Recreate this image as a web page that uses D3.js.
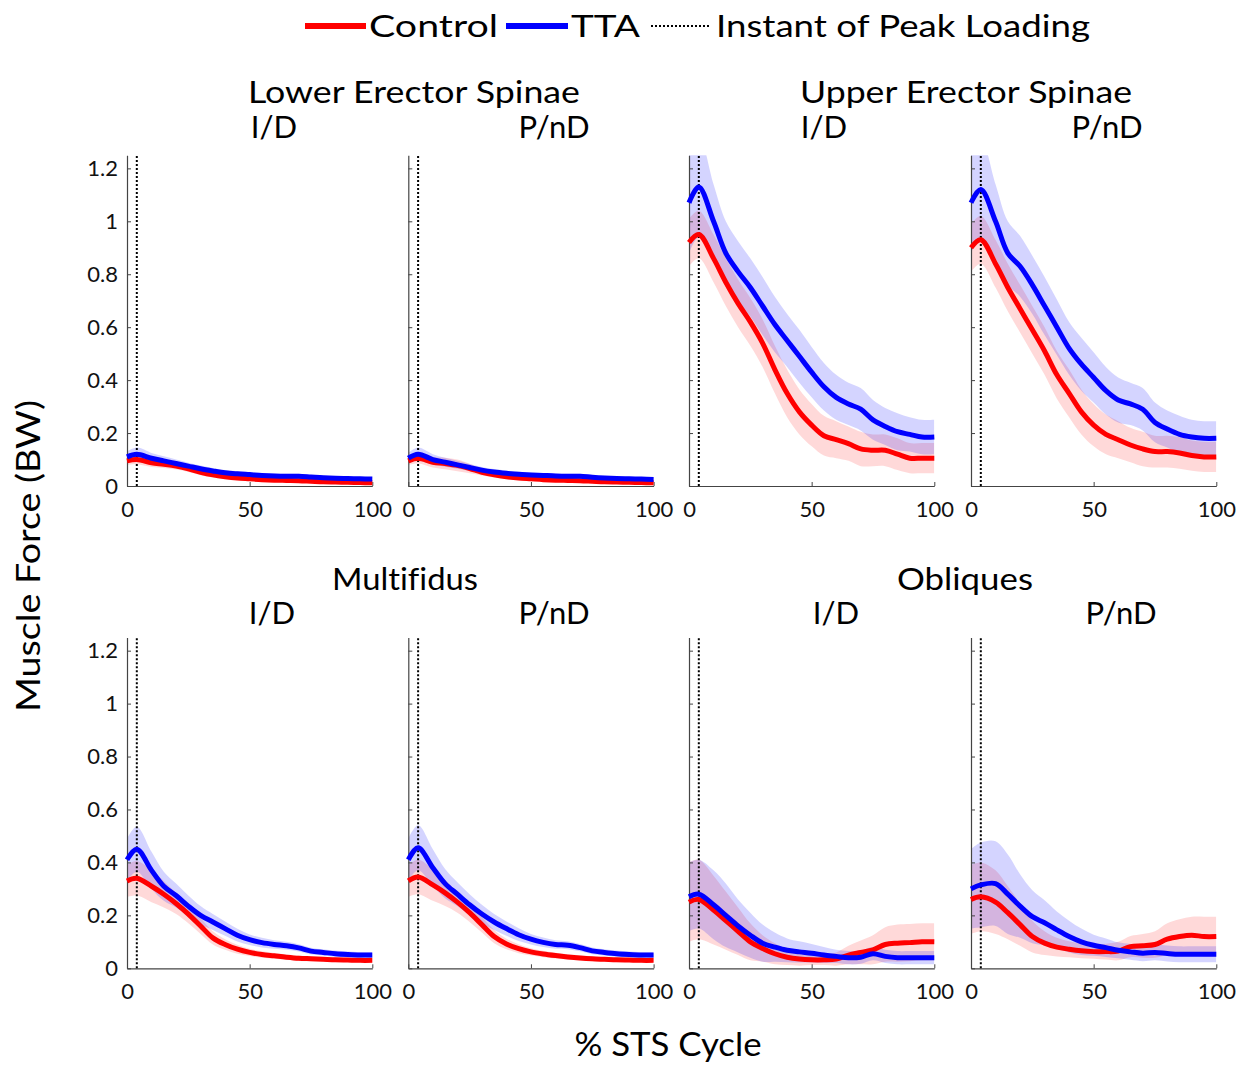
<!DOCTYPE html>
<html>
<head>
<meta charset="utf-8">
<script src="https://cdn.jsdelivr.net/npm/d3@7"></script>
<style>
  html, body { margin: 0; padding: 0; background: #fff; }
  svg { display: block; font-family: Lato, "Open Sans", sans-serif; font-variant-ligatures: none; }
</style>
</head>
<body>
<svg id="chart" width="1248" height="1066"></svg>
<script>
// ---------------- DATA ----------------
const cyclePct = [0,4,10,15,20,25,30,35,40,45,50,55,60,65,70,75,80,85,90,95,100];
const yTicks = [0,0.2,0.4,0.6,0.8,1,1.2];
const yTickLabels = ["0","0.2","0.4","0.6","0.8","1","1.2"];
const xTicks = [0,50,100];
const peakInstant = 4;
const muscles = ["Lower Erector Spinae","Upper Erector Spinae","Multifidus","Obliques"];
const sides = ["I/D","P/nD"];
const seriesNames = ["Control","TTA"];

// Lower Erector Spinae
const lesID_control   = [0.095,0.10,0.088,0.082,0.075,0.065,0.052,0.042,0.035,0.030,0.027,0.024,0.022,0.021,0.020,0.018,0.016,0.015,0.014,0.013,0.012];
const lesID_tta       = [0.11,0.12,0.105,0.095,0.085,0.075,0.065,0.057,0.050,0.046,0.043,0.040,0.038,0.037,0.037,0.034,0.031,0.029,0.028,0.027,0.026];
const lesID_controlSD = [0.015,0.018,0.016,0.014,0.013,0.012,0.011,0.010,0.009,0.008,0.008,0.007,0.007,0.007,0.007,0.006,0.006,0.006,0.006,0.006,0.006];
const lesID_ttaSD     = [0.02,0.025,0.02,0.017,0.015,0.013,0.012,0.011,0.010,0.010,0.009,0.009,0.009,0.009,0.009,0.008,0.008,0.008,0.008,0.008,0.008];
const lesPnD_control   = [0.095,0.105,0.09,0.085,0.078,0.066,0.052,0.042,0.035,0.030,0.027,0.024,0.022,0.021,0.020,0.018,0.016,0.015,0.014,0.013,0.012];
const lesPnD_tta       = [0.105,0.12,0.10,0.09,0.08,0.07,0.06,0.053,0.048,0.044,0.042,0.040,0.038,0.037,0.037,0.033,0.030,0.028,0.027,0.026,0.025];
const lesPnD_controlSD = [0.015,0.02,0.02,0.022,0.022,0.018,0.012,0.01,0.009,0.008,0.008,0.007,0.007,0.007,0.007,0.006,0.006,0.006,0.006,0.006,0.006];
const lesPnD_ttaSD     = [0.02,0.025,0.02,0.017,0.015,0.013,0.012,0.011,0.010,0.010,0.009,0.009,0.009,0.009,0.009,0.008,0.008,0.008,0.008,0.008,0.008];

// Upper Erector Spinae
const uesID_control   = [0.92,0.95,0.86,0.77,0.69,0.62,0.54,0.44,0.35,0.28,0.23,0.19,0.175,0.16,0.14,0.135,0.135,0.12,0.105,0.105,0.105];
const uesID_tta       = [1.07,1.13,1.0,0.88,0.81,0.75,0.68,0.61,0.55,0.49,0.43,0.375,0.335,0.31,0.29,0.25,0.225,0.205,0.195,0.185,0.185];
const uesID_controlSD = [0.09,0.09,0.09,0.09,0.09,0.09,0.09,0.09,0.09,0.085,0.08,0.075,0.07,0.065,0.065,0.06,0.06,0.06,0.057,0.057,0.057];
const uesID_ttaSD     = [0.19,0.19,0.14,0.12,0.115,0.11,0.11,0.105,0.10,0.10,0.095,0.09,0.085,0.08,0.08,0.075,0.07,0.07,0.065,0.065,0.065];
const uesPnD_control   = [0.90,0.93,0.84,0.75,0.67,0.59,0.51,0.42,0.35,0.28,0.23,0.195,0.175,0.155,0.14,0.13,0.13,0.125,0.115,0.11,0.11];
const uesPnD_tta       = [1.07,1.12,1.0,0.88,0.83,0.76,0.68,0.60,0.52,0.46,0.41,0.36,0.325,0.31,0.29,0.24,0.215,0.195,0.185,0.18,0.18];
const uesPnD_controlSD = [0.09,0.09,0.09,0.09,0.09,0.09,0.09,0.09,0.09,0.085,0.08,0.075,0.07,0.065,0.065,0.06,0.06,0.06,0.057,0.057,0.057];
const uesPnD_ttaSD     = [0.19,0.19,0.14,0.12,0.115,0.11,0.11,0.105,0.10,0.10,0.095,0.09,0.085,0.08,0.08,0.075,0.07,0.07,0.065,0.065,0.065];

// Multifidus
const mfID_control   = [0.33,0.34,0.31,0.28,0.245,0.205,0.16,0.115,0.09,0.072,0.06,0.052,0.047,0.042,0.038,0.036,0.034,0.032,0.031,0.03,0.03];
const mfID_tta       = [0.41,0.45,0.37,0.31,0.275,0.235,0.20,0.175,0.15,0.125,0.108,0.097,0.09,0.085,0.077,0.065,0.06,0.055,0.052,0.05,0.05];
const mfID_controlSD = [0.06,0.065,0.06,0.05,0.04,0.035,0.03,0.025,0.02,0.017,0.014,0.012,0.011,0.01,0.01,0.009,0.009,0.009,0.008,0.008,0.008];
const mfID_ttaSD     = [0.08,0.085,0.07,0.055,0.045,0.04,0.035,0.03,0.027,0.024,0.02,0.018,0.016,0.015,0.014,0.013,0.012,0.012,0.011,0.011,0.011];
const mfPnD_control   = [0.33,0.345,0.315,0.285,0.25,0.21,0.165,0.12,0.092,0.074,0.062,0.054,0.048,0.043,0.039,0.036,0.034,0.032,0.031,0.03,0.03];
const mfPnD_tta       = [0.41,0.455,0.38,0.32,0.28,0.24,0.205,0.175,0.15,0.127,0.11,0.098,0.09,0.087,0.078,0.066,0.06,0.055,0.052,0.05,0.05];
const mfPnD_controlSD = [0.06,0.065,0.06,0.05,0.04,0.035,0.03,0.025,0.02,0.017,0.014,0.012,0.011,0.01,0.01,0.009,0.009,0.009,0.008,0.008,0.008];
const mfPnD_ttaSD     = [0.08,0.085,0.07,0.055,0.045,0.04,0.035,0.03,0.027,0.024,0.02,0.018,0.016,0.015,0.014,0.013,0.012,0.012,0.011,0.011,0.011];

// Obliques
const obID_control   = [0.25,0.26,0.22,0.18,0.14,0.10,0.075,0.055,0.042,0.035,0.032,0.032,0.035,0.05,0.06,0.07,0.09,0.095,0.097,0.10,0.10];
const obID_tta       = [0.27,0.28,0.24,0.20,0.16,0.125,0.095,0.08,0.068,0.062,0.057,0.05,0.045,0.04,0.042,0.055,0.045,0.04,0.04,0.04,0.04];
const obID_controlSD = [0.15,0.15,0.13,0.11,0.09,0.07,0.05,0.04,0.03,0.025,0.02,0.02,0.025,0.035,0.045,0.055,0.065,0.07,0.07,0.07,0.07];
const obID_ttaSD     = [0.13,0.13,0.13,0.12,0.10,0.085,0.07,0.055,0.045,0.04,0.035,0.03,0.025,0.025,0.025,0.025,0.025,0.025,0.025,0.025,0.025];
const obPnD_control   = [0.26,0.27,0.25,0.21,0.165,0.12,0.095,0.08,0.072,0.066,0.063,0.063,0.065,0.082,0.085,0.09,0.11,0.12,0.125,0.12,0.12];
const obPnD_tta       = [0.30,0.315,0.32,0.28,0.235,0.195,0.172,0.145,0.12,0.10,0.087,0.078,0.068,0.062,0.057,0.06,0.056,0.053,0.053,0.053,0.053];
const obPnD_controlSD = [0.13,0.13,0.12,0.10,0.08,0.06,0.045,0.035,0.03,0.028,0.027,0.03,0.035,0.04,0.045,0.05,0.06,0.065,0.07,0.075,0.075];
const obPnD_ttaSD     = [0.15,0.16,0.16,0.15,0.12,0.10,0.085,0.07,0.06,0.05,0.04,0.035,0.03,0.03,0.03,0.03,0.03,0.03,0.03,0.03,0.03];

// ---------------- LAYOUT ----------------
const colors = { Control: "#ff0000", TTA: "#0000ff" };
const bandColors = { Control: "rgba(255,0,0,0.15)", TTA: "rgba(0,0,255,0.17)" };
const panelLeft = [127, 408.3, 689, 971];
const panelW = 245.3;
const rowBottom = [486, 968.3];
const unitPx = 264.7;   // pixels per 1.0 BW
const yMax = 1.25;
const rowTitleShift = [0, 4];

const panels = [
  {row:0,col:0,side:0,ctrl:lesID_control, tta:lesID_tta, ctrlSD:lesID_controlSD, ttaSD:lesID_ttaSD, subX:274},
  {row:0,col:1,side:1,ctrl:lesPnD_control,tta:lesPnD_tta,ctrlSD:lesPnD_controlSD,ttaSD:lesPnD_ttaSD,subX:554},
  {row:0,col:2,side:0,ctrl:uesID_control, tta:uesID_tta, ctrlSD:uesID_controlSD, ttaSD:uesID_ttaSD, subX:824},
  {row:0,col:3,side:1,ctrl:uesPnD_control,tta:uesPnD_tta,ctrlSD:uesPnD_controlSD,ttaSD:uesPnD_ttaSD,subX:1107},
  {row:1,col:0,side:0,ctrl:mfID_control,  tta:mfID_tta,  ctrlSD:mfID_controlSD,  ttaSD:mfID_ttaSD,  subX:272},
  {row:1,col:1,side:1,ctrl:mfPnD_control, tta:mfPnD_tta, ctrlSD:mfPnD_controlSD, ttaSD:mfPnD_ttaSD, subX:554},
  {row:1,col:2,side:0,ctrl:obID_control,  tta:obID_tta,  ctrlSD:obID_controlSD,  ttaSD:obID_ttaSD,  subX:836},
  {row:1,col:3,side:1,ctrl:obPnD_control, tta:obPnD_tta, ctrlSD:obPnD_controlSD, ttaSD:obPnD_ttaSD, subX:1121}
];
const groupTitles = [
  {m:0, cx:414, y:103,   w:332},
  {m:1, cx:966, y:103,   w:332},
  {m:2, cx:405, y:589.5, w:146},
  {m:3, cx:965, y:589.5, w:136}
];

const svg = d3.select("#chart");
const defs = svg.append("defs");
const curve = d3.curveCatmullRom.alpha(0.5);

panels.forEach((p, i) => {
  const x0 = panelLeft[p.col], yb = rowBottom[p.row];
  const x = d3.scaleLinear().domain([0,100]).range([x0, x0 + panelW]);
  const y = d3.scaleLinear().domain([0,yMax]).range([yb, yb - yMax*unitPx]);
  const g = svg.append("g");

  defs.append("clipPath").attr("id","clip"+i).append("rect")
    .attr("x", x(0)).attr("y", y(yMax)).attr("width", x(100)-x(0)).attr("height", y(0)-y(yMax));

  const rows = cyclePct.map((c, k) => ({c, ctrl:p.ctrl[k], tta:p.tta[k], cs:p.ctrlSD[k], ts:p.ttaSD[k]}));

  const bands = g.append("g").attr("clip-path", `url(#clip${i})`);
  [["Control","ctrl","cs"],["TTA","tta","ts"]].forEach(([name, key, sd]) => {
    const area = d3.area().curve(curve)
      .x(d => x(d.c)).y0(d => y(d[key] - d[sd])).y1(d => y(d[key] + d[sd]));
    bands.append("path").datum(rows).attr("d", area).attr("fill", bandColors[name]).attr("stroke","none");
  });

  // axes
  const yAxis = d3.axisLeft(y).tickValues(yTicks).tickSize(-4).tickSizeOuter(0).tickPadding(9)
    .tickFormat((d, k) => p.col === 0 ? yTickLabels[k] : "");
  const ya = g.append("g").attr("transform", `translate(${x(0)},0)`).call(yAxis);
  const xAxis = d3.axisBottom(x).tickValues(xTicks).tickSize(-4).tickSizeOuter(0).tickPadding(15)
    .tickFormat(d3.format("d"));
  const xa = g.append("g").attr("transform", `translate(0,${y(0)})`).call(xAxis);
  [ya, xa].forEach(a => {
    a.select(".domain").attr("stroke", "#444").attr("stroke-width", 1.2);
    a.selectAll(".tick line").attr("stroke", "#444").attr("stroke-width", 1);
    a.selectAll("text").attr("font-size", 22).attr("fill", "#111").attr("font-family", "Lato, sans-serif");
  });

  // instant of peak loading
  g.append("line").attr("x1", x(peakInstant)).attr("x2", x(peakInstant))
    .attr("y1", y(0)).attr("y2", y(yMax))
    .attr("stroke", "#000").attr("stroke-width", 2).attr("stroke-dasharray", "2,2");

  // mean lines
  [["Control","ctrl"],["TTA","tta"]].forEach(([name, key]) => {
    const line = d3.line().curve(curve).x(d => x(d.c)).y(d => y(d[key]));
    g.append("path").datum(rows).attr("d", line).attr("fill","none")
      .attr("stroke", colors[name]).attr("stroke-width", 5).attr("stroke-linejoin","round");
  });

  // subtitle
  svg.append("text").attr("x", p.subX).attr("y", yb - 348 + rowTitleShift[p.row]).attr("text-anchor","middle")
    .attr("font-size", 31).attr("fill","#000").text(sides[p.side]);
});

groupTitles.forEach(t => {
  svg.append("text").attr("x", t.cx).attr("y", t.y).attr("text-anchor","middle")
    .attr("font-size", 31).attr("fill","#000")
    .attr("textLength", t.w).attr("lengthAdjust","spacingAndGlyphs")
    .text(muscles[t.m]);
});

// axis labels
svg.append("text").attr("transform","translate(40,556) rotate(-90)").attr("text-anchor","middle")
  .attr("font-size", 32).attr("fill","#000").attr("textLength", 312).attr("lengthAdjust","spacingAndGlyphs")
  .text("Muscle Force (BW)");
svg.append("text").attr("x", 668).attr("y", 1056).attr("text-anchor","middle")
  .attr("font-size", 33).attr("fill","#000").attr("textLength", 187).attr("lengthAdjust","spacingAndGlyphs")
  .text("% STS Cycle");

// legend
const legend = svg.append("g");
const legItems = [
  {name:seriesNames[0], x1:305, x2:366, tx:369, tw:129, color:colors.Control, dash:null, w:6},
  {name:seriesNames[1], x1:506, x2:568, tx:571, tw:69,  color:colors.TTA, dash:null, w:6},
  {name:"Instant of Peak Loading", x1:651, x2:711, tx:716, tw:374, color:"#000", dash:"2,2", w:2}
];
legItems.forEach(it => {
  legend.append("line").attr("x1", it.x1).attr("x2", it.x2).attr("y1", 26).attr("y2", 26)
    .attr("stroke", it.color).attr("stroke-width", it.w).attr("stroke-dasharray", it.dash);
  legend.append("text").attr("x", it.tx).attr("y", 37).attr("font-size", 31).attr("fill","#000")
    .attr("textLength", it.tw).attr("lengthAdjust","spacingAndGlyphs").text(it.name);
});
</script>
</body>
</html>
